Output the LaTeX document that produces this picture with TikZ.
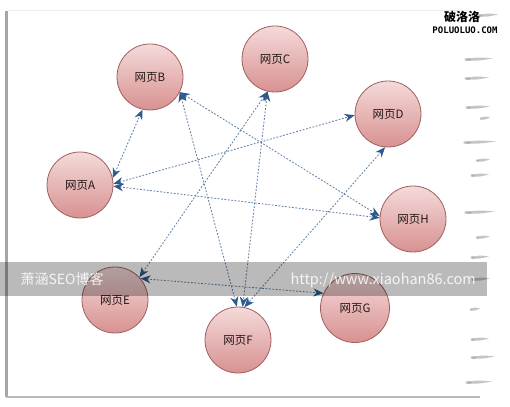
\documentclass[tikz,border=0pt]{standalone}
\usepackage{fontspec}
\setmainfont{Liberation Sans}
\newfontfamily\cjk{Noto Sans CJK SC}
\newfontfamily\monob{DejaVu Sans Mono}
\usetikzlibrary{arrows.meta}
\definecolor{pagetop}{RGB}{245,218,218}
\definecolor{pagebot}{RGB}{216,145,145}
\definecolor{pageedge}{RGB}{160,95,95}
\definecolor{linkcol}{RGB}{100,130,165}
\definecolor{tipblue}{RGB}{45,90,140}
\definecolor{labelcol}{RGB}{35,25,25}
\begin{document}
\begin{tikzpicture}[x=1pt,y=-1pt,
  page/.style={circle, minimum size=66pt, inner sep=0pt, draw=pageedge, line width=0.8pt,
    top color=pagetop, bottom color=pagebot, text=labelcol,
    font=\cjk\fontsize{11.5}{13}\selectfont},
  link/.style={draw=linkcol, line width=0.85pt, dash pattern=on 1.8pt off 1.6pt,
    {Stealth[length=10pt,width=8pt,color=tipblue]}-{Stealth[length=10pt,width=8pt,color=tipblue]}},
  smear/.pic={\fill[gray!75, opacity=0.6] (0,0) .. controls (5,-3) and (12,-2.8) .. (20,-1.5)
      .. controls (13,0) and (6,1.8) .. cycle;
    \fill[gray!80, opacity=0.5] (2,-0.5) ellipse (2.5pt and 1.6pt);}
]
\useasboundingbox (0,0) rectangle (510,406);
\fill[white] (0,0) rectangle (510,406);
% frame
\draw[gray!15, line width=0.6pt] (8,10) -- (470,10);
\draw[gray!70, line width=3pt] (6.5,11) -- (6.5,397);
\draw[gray!55, line width=2pt] (6,397) -- (480,397);
% torn right edge
\pic at (478,16) {smear};
\pic[xscale=1.4] at (465,60) {smear};
\pic[xscale=1.2] at (465,79) {smear};
\pic[xscale=1.2] at (466,108) {smear};
\pic[xscale=0.5] at (480,119) {smear};
\pic[xscale=1.6] at (464,143) {smear};
\pic[xscale=0.7] at (476,161) {smear};
\pic[xscale=0.9] at (471,176) {smear};
\pic[xscale=1.5] at (465,213) {smear};
\pic[xscale=0.7] at (476,238) {smear};
\pic[xscale=0.9] at (471,258) {smear};
\pic[xscale=0.9] at (472,280) {smear};
\pic[xscale=0.5] at (470,310) {smear};
\pic[xscale=0.9] at (471,340) {smear};
\pic[xscale=1.2] at (471,358) {smear};
\pic[xscale=1.3] at (466,383) {smear};
% pages
\node[page] (A) at (80,185) {网页A};
\node[page] (B) at (150,77) {网页B};
\node[page] (C) at (275,59) {网页C};
\node[page] (D) at (388,114) {网页D};
\node[page] (H) at (413,219) {网页H};
\node[page] (E) at (115,300) {网页E};
\node[page] (F) at (238,340) {网页F};
\node[page, minimum size=69pt] (G) at (355,308) {网页G};
% links
\draw[link] (A.12) -- (B.-103);
\draw[link] (A.2) -- (D.182);
\draw[link] (A.-2) -- (H.178);
\draw[link] (B.-27) -- (H.175);
\draw[link] (B.-27) -- (F.92);
\draw[link] (C.-103) -- (F.82);
\draw[link] (C.-103) -- (E.43);
\draw[link] (D.-95) -- (F.79);
\draw[link] (E.40) -- (G.155);
% watermark bar
\fill[black, opacity=0.27] (0,262) rectangle (487,296);
\node[anchor=west, text=white, opacity=0.85, font=\cjk\fontsize{14}{16}\selectfont] (wm1) at (17,279) {萧涵SEO博客};
\node[anchor=west, text=white, opacity=0.85, font=\cjk\fontsize{14.5}{17}\selectfont] (wm2) at (287,280) {http://www.xiaohan86.com};
% logo
\node[font=\cjk\bfseries\fontsize{12}{12}\selectfont] (logo1) at (462,17) {破洛洛};
\node[font=\monob\bfseries\fontsize{9}{9}\selectfont] (logo2) at (465,30) {POLUOLUO.COM};
\end{tikzpicture}
\end{document}
